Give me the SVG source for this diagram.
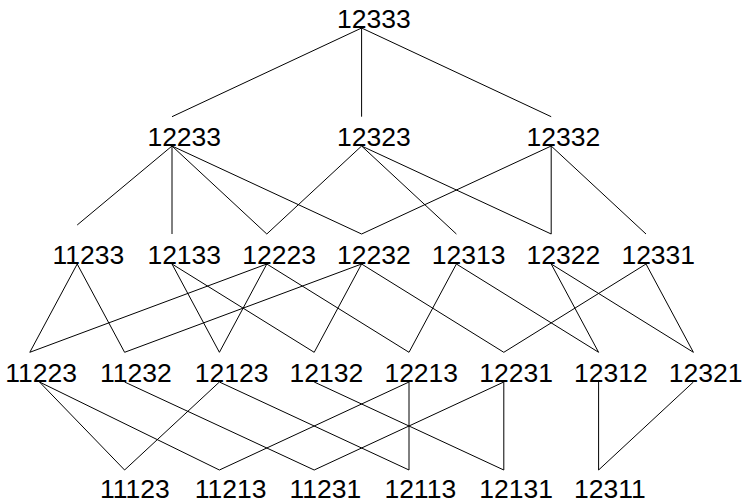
<svg xmlns="http://www.w3.org/2000/svg" width="742" height="502" viewBox="0 0 742 502">
<style>
text{font-family:"Liberation Sans",Arial,sans-serif;font-size:26.5px;fill:#000}
#edges line{stroke:#000;stroke-width:1}
</style>
<rect width="742" height="502" fill="#fff"/>
<g id="edges">
<line x1="361.6" y1="28" x2="172" y2="116.7"/>
<line x1="361.6" y1="28" x2="361.6" y2="116.7"/>
<line x1="361.6" y1="28" x2="551.2" y2="116.7"/>
<line x1="172" y1="146" x2="77.2" y2="225"/>
<line x1="172" y1="146" x2="172" y2="234"/>
<line x1="172" y1="146" x2="266.8" y2="234"/>
<line x1="172" y1="146" x2="361.6" y2="234"/>
<line x1="361.6" y1="146" x2="266.8" y2="234"/>
<line x1="361.6" y1="146" x2="456.4" y2="234"/>
<line x1="361.6" y1="146" x2="551.2" y2="234"/>
<line x1="551.2" y1="146" x2="361.6" y2="234"/>
<line x1="551.2" y1="146" x2="551.2" y2="234"/>
<line x1="551.2" y1="146" x2="646" y2="234"/>
<line x1="77.2" y1="264" x2="29.8" y2="352.3"/>
<line x1="77.2" y1="264" x2="124.6" y2="352.3"/>
<line x1="172" y1="264" x2="219.4" y2="352.3"/>
<line x1="172" y1="264" x2="314.2" y2="352.3"/>
<line x1="266.8" y1="264" x2="29.8" y2="352.3"/>
<line x1="266.8" y1="264" x2="219.4" y2="352.3"/>
<line x1="266.8" y1="264" x2="409" y2="352.3"/>
<line x1="361.6" y1="264" x2="124.6" y2="352.3"/>
<line x1="361.6" y1="264" x2="314.2" y2="352.3"/>
<line x1="361.6" y1="264" x2="503.8" y2="352.3"/>
<line x1="456.4" y1="264" x2="409" y2="352.3"/>
<line x1="456.4" y1="264" x2="598.6" y2="352.3"/>
<line x1="551.2" y1="264" x2="598.6" y2="352.3"/>
<line x1="551.2" y1="264" x2="693.4" y2="352.3"/>
<line x1="646" y1="264" x2="503.8" y2="352.3"/>
<line x1="646" y1="264" x2="693.4" y2="352.3"/>
<line x1="39.5" y1="382" x2="124.6" y2="470"/>
<line x1="39.5" y1="382" x2="219.4" y2="470"/>
<line x1="124.6" y1="382" x2="314.2" y2="470"/>
<line x1="219.4" y1="382" x2="124.6" y2="470"/>
<line x1="219.4" y1="382" x2="409" y2="470"/>
<line x1="314.2" y1="382" x2="503.8" y2="470"/>
<line x1="409" y1="382" x2="219.4" y2="470"/>
<line x1="409" y1="382" x2="409" y2="470"/>
<line x1="503.8" y1="382" x2="314.2" y2="470"/>
<line x1="503.8" y1="382" x2="503.8" y2="470"/>
<line x1="598.6" y1="382" x2="598.6" y2="470"/>
<line x1="693.4" y1="382" x2="598.6" y2="470"/>
</g>
<g id="n12333"><text x="337" y="27.5">12333</text></g>
<g id="n12233"><text x="147.4" y="146">12233</text></g>
<g id="n12323"><text x="337" y="146">12323</text></g>
<g id="n12332"><text x="526.6" y="146">12332</text></g>
<g id="n11233"><text x="52.6" y="264">11233</text></g>
<g id="n12133"><text x="147.4" y="264">12133</text></g>
<g id="n12223"><text x="242.2" y="264">12223</text></g>
<g id="n12232"><text x="337" y="264">12232</text></g>
<g id="n12313"><text x="431.8" y="264">12313</text></g>
<g id="n12322"><text x="526.6" y="264">12322</text></g>
<g id="n12331"><text x="621.4" y="264">12331</text></g>
<g id="n11223"><text x="5.2" y="382">11223</text></g>
<g id="n11232"><text x="100" y="382">11232</text></g>
<g id="n12123"><text x="194.8" y="382">12123</text></g>
<g id="n12132"><text x="289.6" y="382">12132</text></g>
<g id="n12213"><text x="384.4" y="382">12213</text></g>
<g id="n12231"><text x="479.2" y="382">12231</text></g>
<g id="n12312"><text x="574" y="382">12312</text></g>
<g id="n12321"><text x="668.8" y="382">12321</text></g>
<g id="n11123"><text x="100" y="497.5">11123</text></g>
<g id="n11213"><text x="194.8" y="497.5">11213</text></g>
<g id="n11231"><text x="289.6" y="497.5">11231</text></g>
<g id="n12113"><text x="384.4" y="497.5">12113</text></g>
<g id="n12131"><text x="479.2" y="497.5">12131</text></g>
<g id="n12311"><text x="574" y="497.5">12311</text></g>
</svg>
